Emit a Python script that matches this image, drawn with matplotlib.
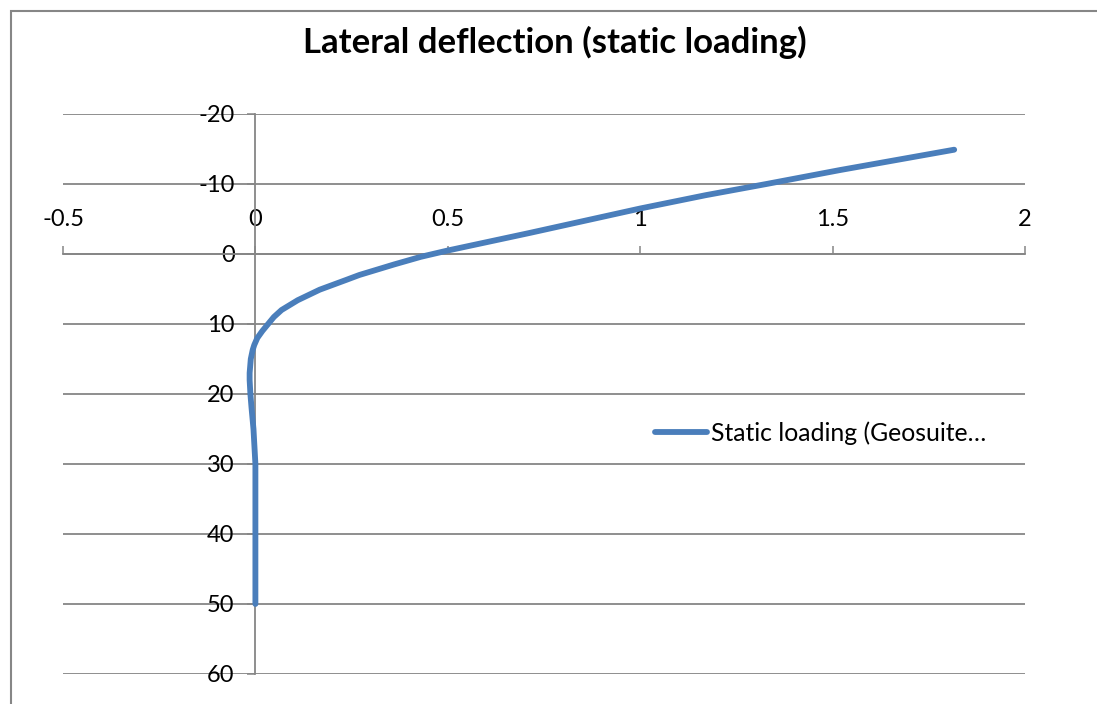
import matplotlib
matplotlib.use('Agg')
import matplotlib.pyplot as plt
from matplotlib.patches import Rectangle

plt.rcParams['font.family'] = ['Lato', 'DejaVu Sans']
plt.rcParams['axes.unicode_minus'] = False

# pile head at depth -14.9, toe at 50
depth = [-14.9, -12, -10, -8.4, -6.5, -3, -0.5, 0.4, 1.5, 3.0, 3.7, 5.1, 6.6,
         8.0, 9, 10, 11, 12, 13, 13.7, 15, 17, 18, 20, 22, 25, 28, 30, 35, 40,
         45, 50]
deflection = [1.816, 1.52, 1.328, 1.17, 1.0, 0.712, 0.5, 0.43, 0.36, 0.27,
              0.236, 0.167, 0.11, 0.068, 0.048, 0.033, 0.018, 0.005, -0.003,
              -0.007, -0.012, -0.015, -0.015, -0.013, -0.010, -0.005, -0.002,
              0, 0, 0, 0, 0]

x_ticks = [-0.5, 0, 0.5, 1, 1.5, 2]
y_ticks = [-20, -10, 0, 10, 20, 30, 40, 50, 60]
series_name = 'Static loading (Geosuite\u2026'

grey = '#868686'
W, H = 1097, 704
fig = plt.figure(figsize=(W / 100, H / 100), dpi=100)
ax = fig.add_axes([63 / W, 1 - 674 / H, (1025 - 63) / W, (674 - 114) / H])

ax.plot(deflection, depth, color='#4A7EBB', lw=4.2, solid_capstyle='round',
        solid_joinstyle='round', label=series_name, zorder=3)

ax.set_xlim(-0.5, 2)
ax.set_ylim(60, -20)
ax.set_xticks(x_ticks)
ax.set_yticks(y_ticks)
ax.set_xticklabels([f'{v:g}' for v in x_ticks])
ax.set_yticklabels([f'{v:g}' for v in y_ticks])

# axes cross at the origin; x labels sit above the horizontal axis
for side in ['bottom', 'right']:
    ax.spines[side].set_visible(False)
ax.spines['top'].set_position(('data', 0))
ax.spines['left'].set_position(('data', 0))
for side in ['top', 'left']:
    ax.spines[side].set_color(grey)
    ax.spines[side].set_linewidth(1.3)
ax.xaxis.set_ticks_position('top')
ax.tick_params(axis='x', direction='out', length=6, width=1.1, color=grey,
               labelsize=17, pad=11)
ax.tick_params(axis='y', direction='out', length=6, width=1.1, color=grey,
               labelsize=17, pad=9)

ax.yaxis.grid(True, color=grey, lw=1.3)
ax.set_axisbelow(True)

fig.text(555 / W, 1 - 42 / H, 'Lateral deflection (static loading)',
         ha='center', va='center', fontsize=25, fontweight='bold')

ax.legend(loc='center left', bbox_to_anchor=(655 / W, 1 - 433 / H),
          bbox_transform=fig.transFigure, frameon=False, fontsize=17.8,
          handlelength=2.1, handletextpad=0.15, borderpad=0, borderaxespad=0)

# chart area border
fig.patches.append(Rectangle((11 / W, -0.1), 1.2, 1 - 11 / H + 0.1,
                             transform=fig.transFigure, fill=False,
                             edgecolor=grey, lw=1.5))

fig.savefig('out.png', dpi=100)
